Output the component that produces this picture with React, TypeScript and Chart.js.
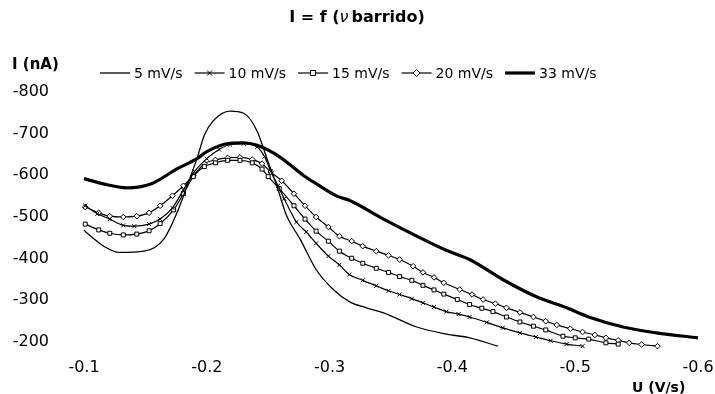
import React, { useEffect, useRef } from "react";
import { Chart, registerables } from "chart.js";

Chart.register(...registerables);

const FONT = '"DejaVu Sans", Verdana, sans-serif';

const seriesNames = ["5 mV/s", "10 mV/s", "15 mV/s", "20 mV/s", "33 mV/s"];
const xTicks = [-0.1, -0.2, -0.3, -0.4, -0.5, -0.6];
const yTicks = [-800, -700, -600, -500, -400, -300, -200];

// 5 mV/s
const u5 = [-0.100, -0.108, -0.116, -0.129, -0.149, -0.165, -0.176, -0.184, -0.192, -0.198, -0.205, -0.219, -0.230, -0.241, -0.249, -0.257, -0.265, -0.276, -0.289, -0.303, -0.316, -0.330, -0.344, -0.371, -0.395, -0.414, -0.437];
const i5 = [-468, -448, -430, -415, -418, -447, -512, -575, -640, -696, -730, -754, -749, -706, -640, -575, -503, -447, -374, -326, -297, -282, -270, -236, -219, -210, -190];

// 10 mV/s
const u10 = [-0.101, -0.111, -0.121, -0.132, -0.141, -0.153, -0.162, -0.172, -0.181, -0.190, -0.200, -0.210, -0.219, -0.230, -0.241, -0.247, -0.252, -0.258, -0.263, -0.273, -0.281, -0.289, -0.299, -0.308, -0.316, -0.327, -0.338, -0.348, -0.357, -0.367, -0.376, -0.385, -0.395, -0.405, -0.414, -0.428, -0.441, -0.455, -0.468, -0.480, -0.493, -0.506];
const i10 = [-527, -508, -495, -480, -478, -483, -495, -522, -565, -609, -640, -662, -674, -676, -668, -645, -610, -575, -544, -488, -464, -437, -406, -385, -362, -348, -335, -323, -314, -304, -294, -284, -273, -267, -260, -247, -234, -222, -212, -203, -195, -190];

// 15 mV/s
const u15 = [-0.101, -0.112, -0.121, -0.132, -0.143, -0.153, -0.162, -0.173, -0.181, -0.189, -0.198, -0.207, -0.217, -0.227, -0.237, -0.245, -0.250, -0.259, -0.271, -0.280, -0.289, -0.299, -0.308, -0.318, -0.327, -0.338, -0.348, -0.357, -0.367, -0.376, -0.385, -0.393, -0.404, -0.414, -0.424, -0.433, -0.444, -0.455, -0.466, -0.476, -0.490, -0.500, -0.511, -0.525, -0.535];
const i15 = [-483, -469, -461, -457, -459, -467, -484, -517, -556, -597, -621, -630, -636, -636, -630, -615, -597, -568, -527, -495, -466, -442, -418, -401, -389, -377, -367, -357, -348, -336, -325, -315, -302, -290, -281, -273, -260, -248, -238, -229, -214, -210, -207, -198, -195];

// 20 mV/s
const u20 = [-0.101, -0.112, -0.121, -0.132, -0.143, -0.153, -0.162, -0.172, -0.181, -0.189, -0.198, -0.207, -0.217, -0.227, -0.237, -0.245, -0.252, -0.261, -0.271, -0.280, -0.289, -0.299, -0.308, -0.318, -0.327, -0.338, -0.348, -0.357, -0.368, -0.376, -0.385, -0.393, -0.406, -0.416, -0.425, -0.435, -0.444, -0.455, -0.466, -0.476, -0.485, -0.496, -0.506, -0.516, -0.525, -0.535, -0.544, -0.554, -0.567];
const i20 = [-524, -510, -502, -500, -502, -510, -527, -551, -575, -599, -628, -637, -642, -643, -638, -628, -608, -587, -556, -527, -500, -476, -454, -442, -430, -418, -408, -398, -382, -367, -355, -342, -326, -314, -302, -292, -282, -271, -260, -250, -241, -232, -224, -217, -210, -204, -198, -194, -190];

// 33 mV/s
const u33 = [-0.100, -0.115, -0.135, -0.155, -0.176, -0.192, -0.200, -0.219, -0.230, -0.241, -0.259, -0.279, -0.289, -0.306, -0.316, -0.344, -0.371, -0.395, -0.414, -0.441, -0.468, -0.493, -0.511, -0.539, -0.566, -0.600];
const i33 = [-592, -580, -570, -580, -616, -640, -657, -677, -678, -672, -645, -599, -580, -550, -540, -495, -454, -420, -398, -350, -309, -282, -260, -236, -222, -210];

const pts = (u: number[], v: number[]) => u.map((x, k) => ({ x, y: v[k] }));

const markerOf = ["none", "crossRot", "rect", "rectRot", "none"];

function drawMarker(ctx: CanvasRenderingContext2D, style: string, x: number, y: number, r: number) {
  ctx.save();
  ctx.strokeStyle = "#000";
  ctx.fillStyle = "#fff";
  ctx.lineWidth = 1;
  ctx.setLineDash([]);
  ctx.beginPath();
  if (style === "crossRot") {
    ctx.moveTo(x - r, y - r); ctx.lineTo(x + r, y + r);
    ctx.moveTo(x - r, y + r); ctx.lineTo(x + r, y - r);
    ctx.stroke();
  } else if (style === "rect") {
    ctx.rect(x - r, y - r, 2 * r, 2 * r);
    ctx.fill(); ctx.stroke();
  } else if (style === "rectRot") {
    ctx.moveTo(x, y - r - 1); ctx.lineTo(x + r + 1, y); ctx.lineTo(x, y + r + 1); ctx.lineTo(x - r - 1, y); ctx.closePath();
    ctx.fill(); ctx.stroke();
  }
  ctx.restore();
}

const textPlugin = {
  id: "textPlugin",
  afterDraw(chart: any) {
    const ctx: CanvasRenderingContext2D = chart.ctx;
    ctx.save();
    ctx.fillStyle = "#000";
    ctx.textBaseline = "middle";
    ctx.textAlign = "left";
    // title
    const p1 = "I = f (";
    const p2 = "ν";
    const p3 = "barrido)";
    ctx.font = `bold 16px ${FONT}`;
    const w1 = ctx.measureText(p1).width;
    const w3 = ctx.measureText(p3).width;
    ctx.font = `italic 16px ${FONT}`;
    const w2 = ctx.measureText(p2).width + 3;
    let tx = 357 - (w1 + w2 + w3) / 2;
    const ty = 18;
    ctx.font = `bold 16px ${FONT}`;
    ctx.fillText(p1, tx, ty);
    tx += w1;
    ctx.font = `italic 16px ${FONT}`;
    ctx.fillText(p2, tx, ty);
    tx += w2;
    ctx.font = `bold 16px ${FONT}`;
    ctx.fillText(p3, tx, ty);

    // y title
    ctx.font = `bold 15px ${FONT}`;
    ctx.fillText("I (nA)", 12, 65);
    // x title
    ctx.font = `bold 14px ${FONT}`;
    ctx.fillText("U (V/s)", 632, 388);

    // legend
    ctx.font = `14px ${FONT}`;
    let lx = 100;
    const ly = 73;
    chart.data.datasets.forEach((ds: any, k: number) => {
      ctx.save();
      ctx.strokeStyle = "#000";
      ctx.lineWidth = ds.borderWidth;
      ctx.beginPath();
      ctx.moveTo(lx, ly);
      ctx.lineTo(lx + 30, ly);
      ctx.stroke();
      ctx.restore();
      if (markerOf[k] !== "none") drawMarker(ctx, markerOf[k], lx + 15, ly, 2.5);
      ctx.fillStyle = "#000";
      ctx.fillText(ds.label, lx + 34, ly + 1);
      lx += 34 + ctx.measureText(ds.label).width + 12;
    });
    ctx.restore();
  },
};

export default function App() {
  const ref = useRef<HTMLCanvasElement | null>(null);
  useEffect(() => {
    if (!ref.current) return;
    const all = [pts(u5, i5), pts(u10, i10), pts(u15, i15), pts(u20, i20), pts(u33, i33)];
    const widths = [1.3, 1.2, 1.2, 1.2, 3.2];
    const chart = new Chart(ref.current, {
      type: "line",
      data: {
        datasets: all.map((d, k) => ({
          label: seriesNames[k],
          data: d,
          borderColor: "#000",
          backgroundColor: "#fff",
          borderWidth: widths[k],
          pointStyle: markerOf[k] === "none" ? false : (markerOf[k] as any),
          pointRadius: markerOf[k] === "none" ? 0 : 2.8,
          pointBorderColor: "#000",
          pointBackgroundColor: "#fff",
          pointBorderWidth: 1,
          tension: 0.35,
          cubicInterpolationMode: "monotone",
          clip: false,
          fill: false,
        })) as any,
      },
      options: {
        animation: false,
        responsive: false,
        devicePixelRatio: 1,
        layout: { padding: { top: 92, right: 17, left: 0, bottom: 0 } },
        plugins: { legend: { display: false }, title: { display: false }, tooltip: { enabled: false } },
        scales: {
          x: {
            type: "linear",
            min: -0.6,
            max: -0.1,
            reverse: true,
            grid: { display: false },
            border: { display: false },
            afterFit: (s: any) => { s.height = 52; s.paddingLeft = 0; s.paddingRight = 0; },
            afterBuildTicks: (s: any) => { s.ticks = xTicks.map((v) => ({ value: v })); },
            ticks: {
              color: "#000",
              font: { family: FONT, size: 16 },
              padding: 8,
              maxRotation: 0,
              callback: (v: any) => Number(v).toFixed(1),
            },
          },
          y: {
            type: "linear",
            min: -800,
            max: -200,
            reverse: true,
            grid: { display: false },
            border: { display: false },
            afterFit: (s: any) => { s.width = 84; s.paddingTop = 0; s.paddingBottom = 0; },
            afterBuildTicks: (s: any) => { s.ticks = yTicks.map((v) => ({ value: v })); },
            ticks: {
              color: "#000",
              font: { family: FONT, size: 16 },
              padding: 27,
              callback: (v: any) => String(v),
            },
          },
        },
      },
      plugins: [textPlugin],
    });
    return () => chart.destroy();
  }, []);
  return (
    <div style={{ position: "absolute", left: 0, top: 0, width: 715, height: 394, background: "#fff" }}>
      <canvas ref={ref} width={715} height={394} />
    </div>
  );
}
